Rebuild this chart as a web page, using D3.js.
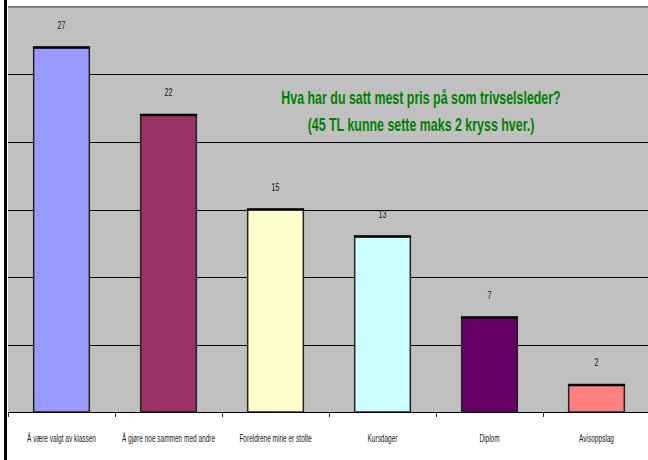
<!DOCTYPE html>
<html><head><meta charset="utf-8">
<script src="https://cdnjs.cloudflare.com/ajax/libs/d3/7.8.5/d3.min.js"></script>
<style>html,body{margin:0;padding:0;background:#fff;}svg{display:block;}</style>
</head><body><svg id="c" width="648" height="460"></svg>
<script>
const categories = ["Å være valgt av klassen","Å gjøre noe sammen med andre","Foreldrene mine er stolte","Kursdager","Diplom","Avisoppslag"];
const values = [27,22,15,13,7,2];
const colors = ["#9999FF","#993366","#FFFFCC","#CCFFFF","#660066","#FF8080"];
const yTicks = [5,10,15,20,25];
const titleLines = ["Hva har du satt mest pris på som trivselsleder?","(45 TL kunne sette maks 2 kryss hver.)"];

(function(){
const svg = d3.select("#c");
const W = 648, H = 460;
const pLeft = 8, pRight = 650, pTop = 7, pBottom = 412;

const x = d3.scaleBand().domain(categories).range([pLeft, pRight]).padding(0);
const y = d3.scaleLinear().domain([0,30]).range([pBottom, pTop]);

svg.append("rect").attr("x", pLeft).attr("y", pTop).attr("width", pRight-pLeft).attr("height", pBottom-pTop).attr("fill", "#C0C0C0");
svg.append("line").attr("x1", pLeft).attr("x2", W).attr("y1", pTop).attr("y2", pTop).attr("stroke", "#808080").attr("stroke-width", 2);

svg.append("g").selectAll("line").data(yTicks).join("line")
  .attr("x1", pLeft).attr("x2", W).attr("y1", d => Math.round(y(d))+0.5).attr("y2", d => Math.round(y(d))+0.5)
  .attr("stroke", "#000").attr("stroke-width", 1);

const bw = x.bandwidth()*0.52;
const g = svg.append("g");
categories.forEach((c,i) => {
  const bx = x(c) + (x.bandwidth()-bw)/2;
  const by = y(values[i]);
  g.append("rect").attr("x", bx).attr("y", by).attr("width", bw).attr("height", pBottom-by)
    .attr("fill", colors[i]).attr("stroke", "#222").attr("stroke-width", 1.5);
  g.append("line").attr("x1", bx-0.75).attr("x2", bx+bw+0.75).attr("y1", by).attr("y2", by)
    .attr("stroke", "#000").attr("stroke-width", 2.5);
  g.append("text").attr("font-family","Liberation Sans, Arial, sans-serif").attr("font-size", 10.5)
    .attr("fill", "#111").attr("text-anchor","middle")
    .attr("transform", `translate(${x(c)+x.bandwidth()/2},${by-19}) scale(0.68,1)`).text(values[i]);
});

svg.append("line").attr("x1", pLeft).attr("x2", W).attr("y1", pBottom+0.5).attr("y2", pBottom+0.5).attr("stroke", "#000").attr("stroke-width", 1.2);

const bounds = categories.map(c => x(c));
svg.append("g").selectAll("line").data(bounds).join("line")
  .attr("x1", d => d+0.5).attr("x2", d => d+0.5).attr("y1", pBottom).attr("y2", pBottom+5)
  .attr("stroke", "#333").attr("stroke-width", 1);

svg.append("g").selectAll("text").data(categories).join("text")
  .attr("font-family","Liberation Sans, Arial, sans-serif").attr("font-size", 10.5).attr("fill", "#222")
  .attr("text-anchor","middle")
  .attr("transform", d => `translate(${x(d)+x.bandwidth()/2},442) scale(0.62,1)`)
  .text(d => d);

svg.append("g").selectAll("text").data(titleLines).join("text")
  .attr("font-family","Liberation Sans, Arial, sans-serif").attr("font-size", 18).attr("font-weight","bold")
  .attr("fill", "#008000").attr("text-anchor","middle")
  .attr("transform", (d,i) => `translate(421,${104 + i*27}) scale(0.69,1)`)
  .text(d => d);

svg.append("rect").attr("x", 4).attr("y", 0).attr("width", 3).attr("height", H).attr("fill", "#000");
})();
</script></body></html>
